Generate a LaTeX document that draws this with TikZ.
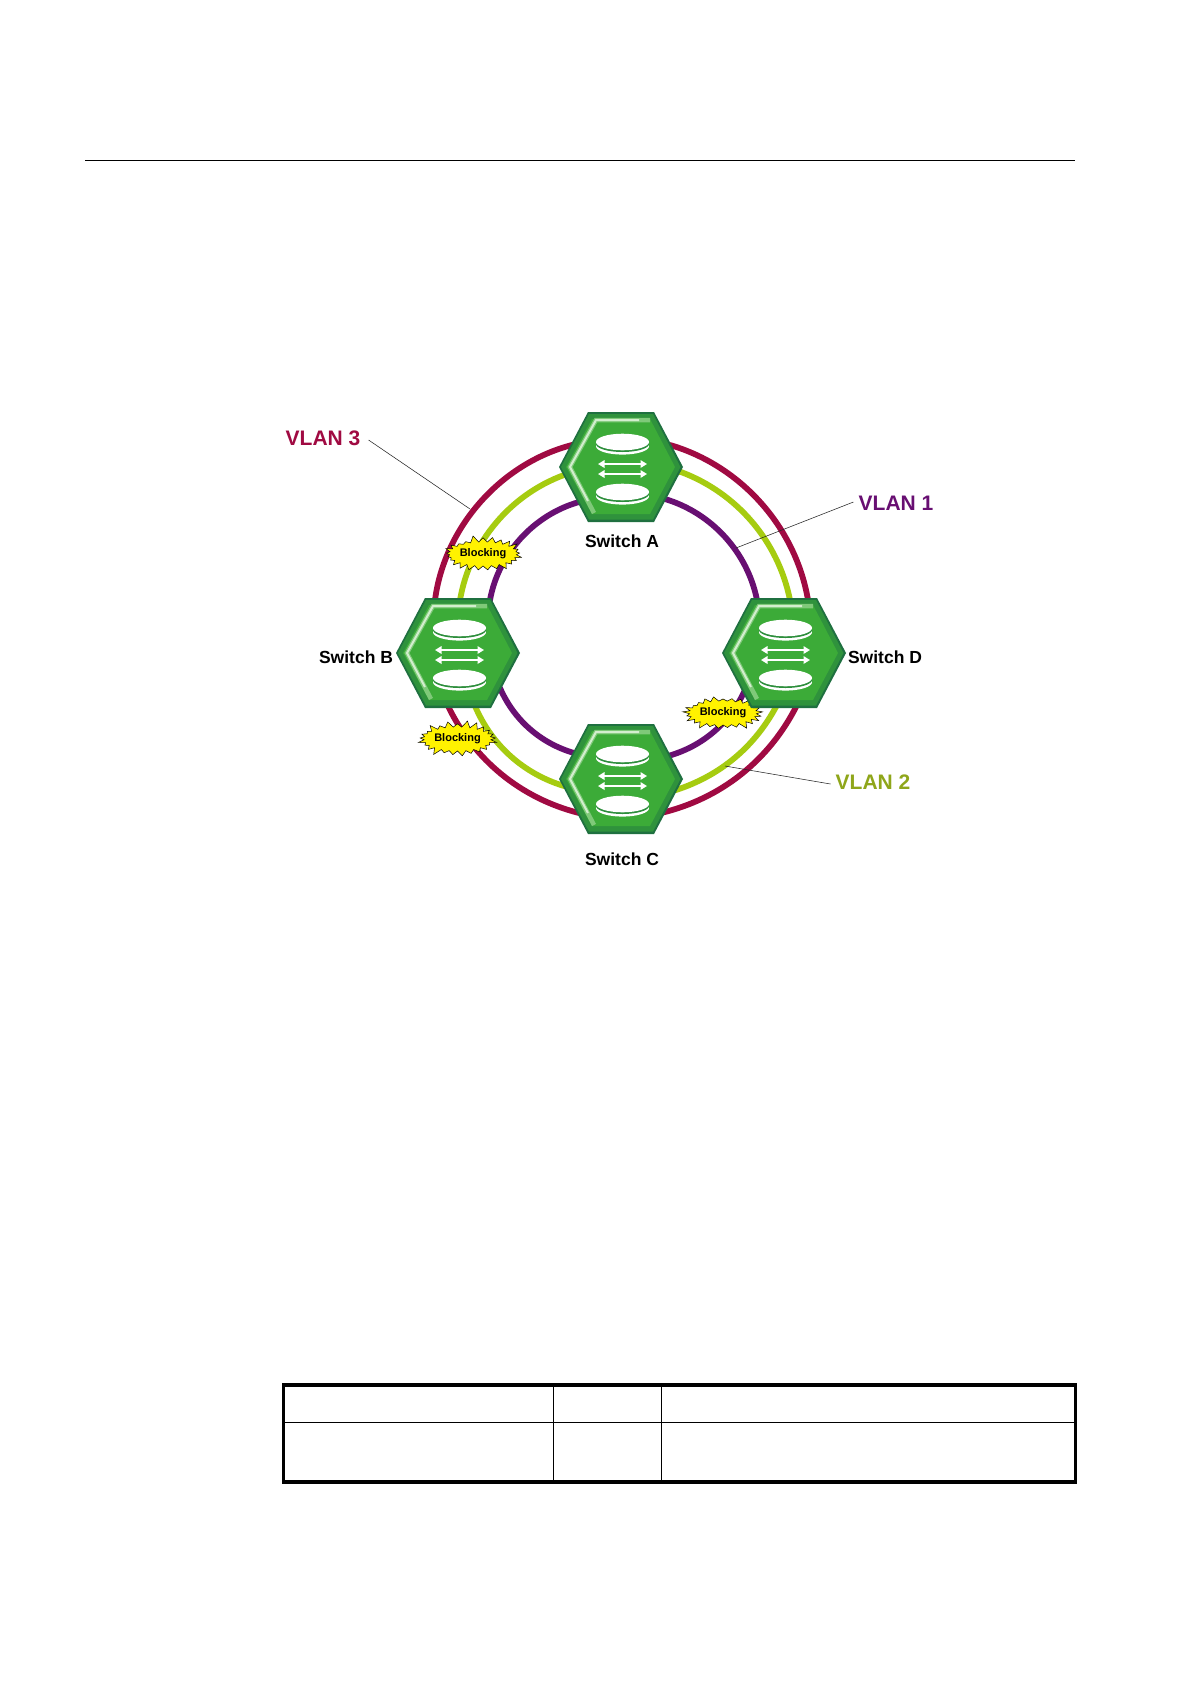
\documentclass[tikz,border=0pt]{standalone}
\usepackage{fontspec}
\setmainfont{Liberation Sans}
\usetikzlibrary{shapes.symbols,arrows.meta}
\definecolor{vlanred}{HTML}{A00A42}
\definecolor{vlangreen}{HTML}{A6CC10}
\definecolor{vlanpurple}{HTML}{680F72}
\definecolor{vlantxt}{HTML}{8FA61A}
\definecolor{hexdark}{HTML}{1F7040}
\definecolor{hexmid}{HTML}{2F923C}
\definecolor{hexmain}{HTML}{3CAB38}
\definecolor{hexlight}{HTML}{B6E2AE}
\tikzset{
  ring/.style={line width=5.8pt,draw=#1,line join=round,looseness=0.91},
  leader/.style={draw=black!85,line width=0.55pt},
  swlabel/.style={font=\bfseries\fontsize{17.5}{20}\selectfont,text=black,inner sep=0pt},
  vlanlabel/.style={font=\bfseries\fontsize{21}{24}\selectfont,text=#1,inner sep=0pt},
  burst/.style={starburst,starburst points=25,starburst point height=7pt,random starburst=#1,
    fill=yellow,draw=black,line width=0.5pt,inner sep=-1pt,minimum width=81pt,minimum height=38pt,
    font=\bfseries\fontsize{11}{13}\selectfont},
  tblouter/.style={draw=black,line width=3.1pt},
  tblinner/.style={draw=black,line width=1.3pt},
  pics/switchhex/.style={code={
    \fill[hexdark] (-62,0) -- (-33,-55) -- (33,-55) -- (62,0) -- (33,55) -- (-33,55) -- cycle;
    \fill[hexmid] (-60,0) -- (-32,-53) -- (32,-53) -- (59.5,0) -- (32,52.5) -- (-32,52.5) -- cycle;
    \fill[hexmain] (-55,0) -- (-29,-48) -- (29,-48) -- (54,0) -- (29,47) -- (-29,47) -- cycle;
    \draw[hexlight!55!hexmain,line width=4.5pt,line join=miter] (29,-47) -- (-25,-47) -- (-51,0) -- (-27,46);
    \draw[hexlight!60!white,line width=2pt,line join=miter] (18,-47) -- (-25,-47) -- (-51,0) -- (-33,34);
    \foreach \dy in {-25,25}{
      \fill[white] (1.5,\dy+4.2) ellipse[x radius=26.5pt,y radius=8.4pt];
      \fill[hexdark!50!hexmain] (1.5,\dy+2) ellipse[x radius=26.5pt,y radius=8pt];
      \fill[white] (1.5,\dy) ellipse[x radius=26.5pt,y radius=8.3pt];
    }
    \foreach \dy in {-3,7}{
      \draw[white,line width=2.2pt,{Triangle[length=6.5pt,width=7.5pt]}-{Triangle[length=6.5pt,width=7.5pt]}] (-23,\dy) -- (26,\dy);
    }
  }}
}
\begin{document}
\begin{tikzpicture}[x=1pt,y=-1pt]
\useasboundingbox (0,0) rectangle (1191,1684);
\fill[white] (0,0) rectangle (1191,1684);
% header rule
\coordinate (ruleL) at (85,160.5);
\coordinate (ruleR) at (1075,160.5);
\draw[black,line width=0.9pt] (ruleL) -- (ruleR);
% switch centres
\coordinate (cA) at (621,467);
\coordinate (cB) at (458,653);
\coordinate (cC) at (621,779);
\coordinate (cD) at (784,653);
% rings, quadrant by quadrant
\draw[ring=vlanred] (cA) -- (572,445) to[bend right=34] (435,600) -- (cB);
\draw[ring=vlangreen] (cA) -- (564,475) to[bend right=30] (460,600) -- (cB);
\draw[ring=vlanpurple] (cA) -- (579,502) to[bend right=32] (490,600) -- (cB);
\draw[ring=vlanred] (cA) -- (670,445) to[bend left=32] (808,600) -- (cD);
\draw[ring=vlangreen] (cA) -- (681,472) to[bend left=29] (790,600) -- (cD);
\draw[ring=vlanpurple] (cA) -- (665,499) to[bend left=31] (757,600) -- (cD);
\draw[ring=vlanred] (cB) -- (448,706) to[bend right=25] (579,813) -- (cC);
\draw[ring=vlangreen] (cB) -- (475,706) to[bend right=25] (564,786) -- (cC);
\draw[ring=vlanpurple] (cB) -- (500,688) to[bend right=25] (574,753) -- (cC);
\draw[ring=vlanred] (cD) -- (797,705) to[bend left=25] (661,813) -- (cC);
\draw[ring=vlangreen] (cD) -- (777,705) to[bend left=22] (676,790) -- (cC);
\draw[ring=vlanpurple] (cD) -- (745,690) to[bend left=25] (668,756) -- (cC);
% blocking bursts
\node[burst=5] (blockAB) at (483,554) {Blocking};
\node[burst=9] (blockBC) at (457.5,739) {Blocking};
\node[burst=13] (blockCD) at (723,713) {Blocking};
% switches
\pic (swA) at (cA) {switchhex};
\pic (swB) at (cB) {switchhex};
\pic (swC) at (cC) {switchhex};
\pic (swD) at (cD) {switchhex};
% switch labels
\node[swlabel] (labA) at (622,541.5) {Switch A};
\node[swlabel] (labB) at (356,657.5) {Switch B};
\node[swlabel] (labC) at (622,859) {Switch C};
\node[swlabel] (labD) at (885,657.5) {Switch D};
% vlan labels
\node[vlanlabel=vlanred] (v3) at (323,438) {VLAN 3};
\node[vlanlabel=vlanpurple] (v1) at (896,503) {VLAN 1};
\node[vlanlabel=vlantxt] (v2) at (873,782) {VLAN 2};
% leaders
\coordinate (t3) at (470,509);
\coordinate (t1) at (736,548);
\coordinate (t2) at (725,766);
\draw[leader] (v3.east)+(8,2) -- (t3);
\draw[leader] (v1.west)+(-5,-1) -- (t1);
\draw[leader] (v2.west)+(-5,2) -- (t2);
% table
\draw[tblinner] (283.5,1422.5) -- (1076,1422.5);
\draw[tblinner] (553.5,1385) -- (553.5,1482);
\draw[tblinner] (661.5,1385) -- (661.5,1482);
\draw[tblouter] (283.5,1385) rectangle (1075.5,1482);
\end{tikzpicture}
\end{document}
